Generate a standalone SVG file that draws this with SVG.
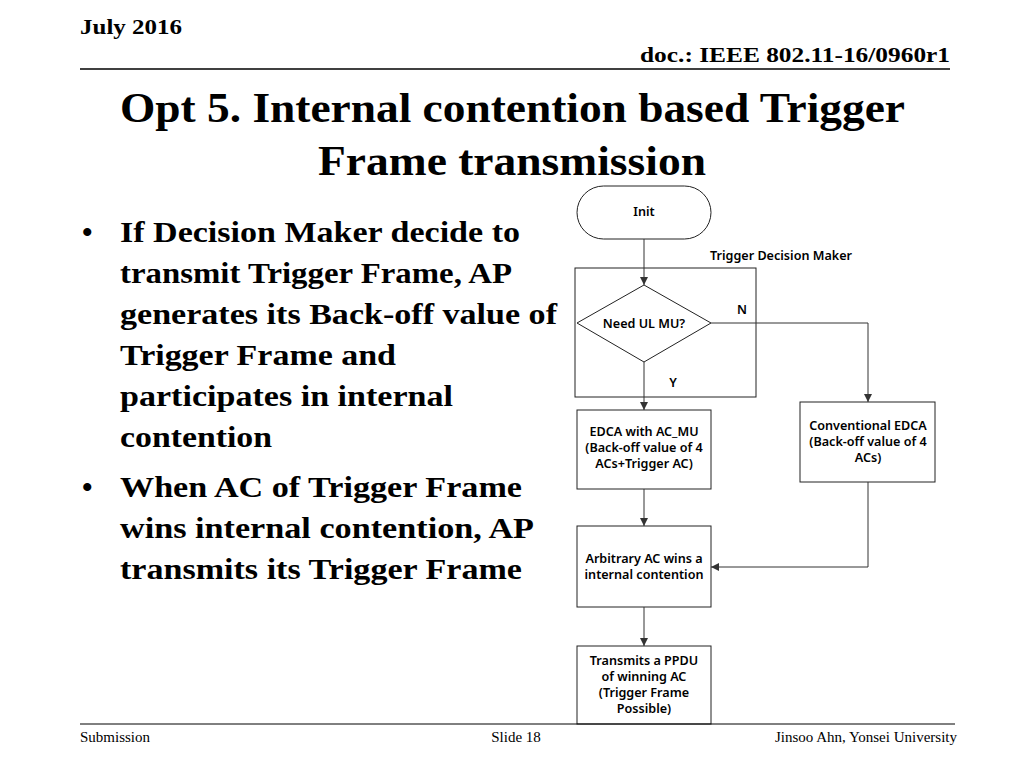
<svg xmlns="http://www.w3.org/2000/svg" width="1024" height="768" viewBox="0 0 1024 768">
<defs>
<style>
.t{font-family:"Liberation Serif",serif;fill:#000}
.f{font-family:"Noto Sans","Open Sans",sans-serif;font-weight:600;font-size:12.6px;fill:#000;text-anchor:middle}
.b{fill:#fff;stroke:#222;stroke-width:1}
.c{fill:none;stroke:#333;stroke-width:1}
</style>
<marker id="a" viewBox="0 0 10 10" refX="10" refY="5" markerWidth="8" markerHeight="8" orient="auto"><path d="M0,0L10,5L0,10z" fill="#333"/></marker>
</defs>
<rect width="1024" height="768" fill="#fff"/>
<text class="t" x="80" y="34" font-size="20" font-weight="bold" textLength="102" lengthAdjust="spacingAndGlyphs">July 2016</text>
<text class="t" x="640" y="62" font-size="20" font-weight="bold" textLength="310" lengthAdjust="spacingAndGlyphs">doc.: IEEE 802.11-16/0960r1</text>
<line x1="80" y1="69" x2="950" y2="69" stroke="#000" stroke-width="1.5"/>
<text class="t" x="120" y="122" font-size="42" font-weight="bold" textLength="785" lengthAdjust="spacingAndGlyphs">Opt 5. Internal contention based Trigger</text>
<text class="t" x="318" y="175" font-size="42" font-weight="bold" textLength="388" lengthAdjust="spacingAndGlyphs">Frame transmission</text>
<g class="t" font-size="30" font-weight="bold">
<text x="82" y="242">•</text>
<text x="120" y="242" textLength="400" lengthAdjust="spacingAndGlyphs">If Decision Maker decide to</text>
<text x="120" y="283" textLength="392" lengthAdjust="spacingAndGlyphs">transmit Trigger Frame, AP</text>
<text x="120" y="324" textLength="437" lengthAdjust="spacingAndGlyphs">generates its Back-off value of</text>
<text x="120" y="365" textLength="276" lengthAdjust="spacingAndGlyphs">Trigger Frame and</text>
<text x="120" y="406" textLength="333" lengthAdjust="spacingAndGlyphs">participates in internal</text>
<text x="120" y="447" textLength="152" lengthAdjust="spacingAndGlyphs">contention</text>
<text x="82" y="497">•</text>
<text x="120" y="497" textLength="402" lengthAdjust="spacingAndGlyphs">When AC of Trigger Frame</text>
<text x="120" y="538" textLength="414" lengthAdjust="spacingAndGlyphs">wins internal contention, AP</text>
<text x="120" y="579" textLength="402" lengthAdjust="spacingAndGlyphs">transmits its Trigger Frame</text>
</g>
<g id="tdm"><rect class="b" x="575" y="268" width="181" height="129"/><text class="f" x="781" y="260">Trigger Decision Maker</text></g>
<g id="init"><rect class="b" x="577" y="186" width="134" height="53" rx="26.5"/><text class="f" x="644" y="216">Init</text></g>
<g id="need"><path class="b" d="M644,285L711,323L644,362L577,323z"/><text class="f" x="644" y="328">Need UL MU?</text></g>
<g id="edca"><rect class="b" x="577" y="410" width="134" height="79"/><text class="f" x="644" y="436">EDCA with AC_MU</text><text class="f" x="644" y="452">(Back-off value of 4</text><text class="f" x="644" y="468">ACs+Trigger AC)</text></g>
<g id="conv"><rect class="b" x="800" y="402" width="135" height="80"/><text class="f" x="868" y="430">Conventional EDCA</text><text class="f" x="868" y="446">(Back-off value of 4</text><text class="f" x="868" y="462">ACs)</text></g>
<g id="arb"><rect class="b" x="577" y="526" width="134" height="81"/><text class="f" x="644" y="563">Arbitrary AC wins a</text><text class="f" x="644" y="579">internal contention</text></g>
<g id="tx"><rect class="b" x="577" y="646" width="134" height="78"/><text class="f" x="644" y="665">Transmits a PPDU</text><text class="f" x="644" y="681">of winning AC</text><text class="f" x="644" y="697">(Trigger Frame</text><text class="f" x="644" y="713">Possible)</text></g>
<g id="connectors">
<path class="c" d="M644,239V285" marker-end="url(#a)"/>
<path class="c" d="M644,362V410" marker-end="url(#a)"/>
<path class="c" d="M711,323H868V402" marker-end="url(#a)"/>
<path class="c" d="M644,489V526" marker-end="url(#a)"/>
<path class="c" d="M868,482V567H711" marker-end="url(#a)"/>
<path class="c" d="M644,607V646" marker-end="url(#a)"/>
<text class="f" x="742" y="314">N</text>
<text class="f" x="673" y="387">Y</text>
</g>
<line x1="80" y1="724" x2="955" y2="724" stroke="#000" stroke-width="1"/>
<text class="t" x="80" y="742" font-size="15">Submission</text>
<text class="t" x="516" y="742" font-size="15" text-anchor="middle">Slide 18</text>
<text class="t" x="957" y="742" font-size="15" text-anchor="end">Jinsoo Ahn, Yonsei University</text>
</svg>
